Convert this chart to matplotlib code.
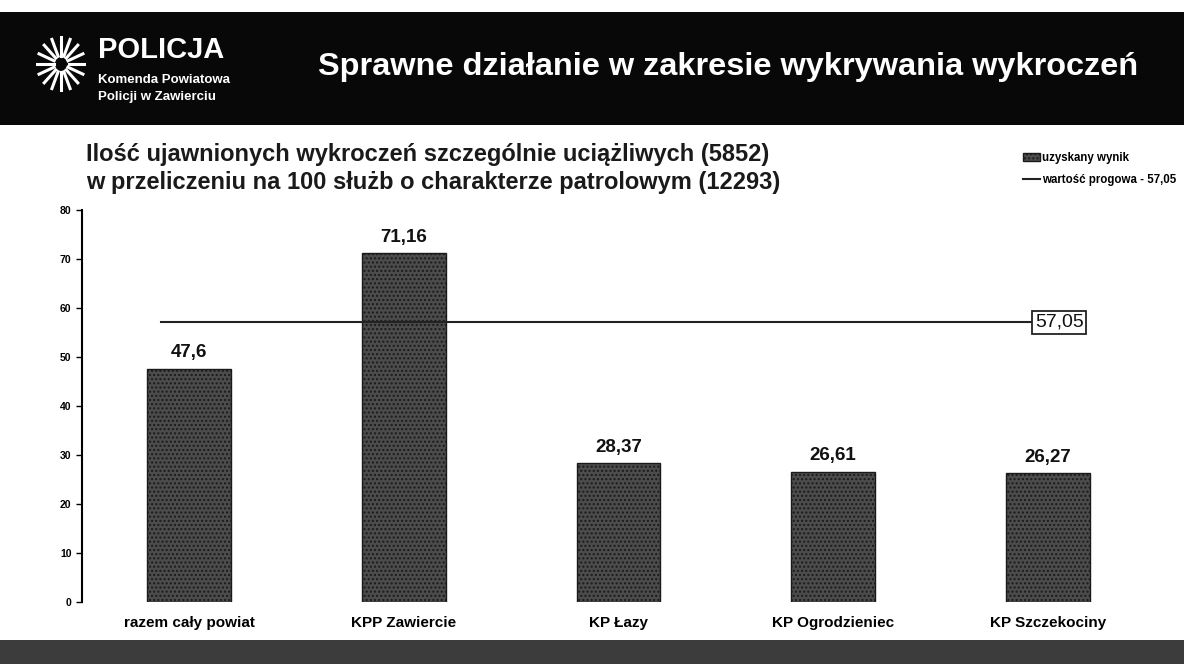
import numpy as np
import matplotlib.pyplot as plt
from matplotlib.patches import Rectangle

categories = ['razem cały powiat', 'KPP Zawiercie', 'KP Łazy', 'KP Ogrodzieniec', 'KP Szczekociny']
values = [47.6, 71.16, 28.37, 26.61, 26.27]
value_labels = ['47,6', '71,16', '28,37', '26,61', '26,27']
threshold = 57.05
threshold_label = '57,05'

plt.rcParams['font.family'] = ['Liberation Sans', 'DejaVu Sans']

fig = plt.figure(figsize=(11.84, 6.64), dpi=100)
fig.patch.set_facecolor('white')

# header band and footer band
fig.patches.append(Rectangle((0, 1 - 125 / 664), 1, 113 / 664, transform=fig.transFigure,
                             facecolor='#080808', edgecolor='none', zorder=-5))
fig.patches.append(Rectangle((0, 0), 1, 24 / 664, transform=fig.transFigure,
                             facecolor='#3c3c3c', edgecolor='none', zorder=-5))

# simple emblem
em = fig.add_axes([36 / 1184, 1 - 92 / 664, 50 / 1184, 56 / 664])
em.set_xlim(-1, 1)
em.set_ylim(-1, 1)
em.axis('off')
for ang in np.arange(0, 360, 22.5):
    a = np.deg2rad(ang)
    em.plot([0.3 * np.cos(a), 0.95 * np.cos(a)], [0.3 * np.sin(a), 0.95 * np.sin(a)],
            color='white', lw=2.2)

fig.text(98 / 1184, 1 - 50 / 664, 'POLICJA', color='white', fontsize=21, fontweight='bold',
         va='center', ha='left')
fig.text(98 / 1184, 1 - 80 / 664, 'Komenda Powiatowa', color='white', fontsize=9.5,
         fontweight='bold', va='center', ha='left')
fig.text(98 / 1184, 1 - 97 / 664, 'Policji w Zawierciu', color='white', fontsize=9.5,
         fontweight='bold', va='center', ha='left')
fig.text(318 / 1184, 1 - 67 / 664, 'Sprawne działanie w zakresie wykrywania wykroczeń',
         color='white', fontsize=23.4, fontweight='bold', va='center', ha='left')

fig.text(86 / 1184, 1 - 155 / 664, 'Ilość ujawnionych wykroczeń szczególnie uciążliwych (5852)',
         color='#1a1a1a', fontsize=17, fontweight='bold', va='center', ha='left')
fig.text(86 / 1184, 1 - 183 / 664, 'w przeliczeniu na 100 służb o charakterze patrolowym (12293)',
         color='#1a1a1a', fontsize=17, fontweight='bold', va='center', ha='left')

ax = fig.add_axes([82 / 1184, 62 / 664, 1073 / 1184, 392 / 664])
x = np.arange(len(categories))
bars = ax.bar(x, values, width=0.39, color='#4c4c4c', edgecolor='#1a1a1a', linewidth=1,
              hatch='....', label='uzyskany wynik', zorder=2)

for xi, v, lab in zip(x, values, value_labels):
    ax.text(xi, v + 1.5, lab, ha='center', va='bottom', fontsize=13.5, fontweight='bold',
            color='#111111')

line, = ax.plot([-0.13, 3.93], [threshold, threshold], color='#222222', lw=1.5,
                label='wartość progowa - 57,05', zorder=3)
ax.text(3.94, threshold, threshold_label, ha='left', va='center', fontsize=14,
        color='#111111', bbox=dict(boxstyle='square,pad=0.15', facecolor='white',
                                   edgecolor='#222222', linewidth=1.3))

ax.set_xlim(-0.5, len(categories) - 0.5)
ax.set_ylim(0, 80)
ax.set_yticks(np.arange(0, 81, 10))
ax.tick_params(axis='y', labelsize=7.5, length=4, width=1, direction='out')
for t in ax.get_yticklabels():
    t.set_fontweight('bold')
ax.set_xticks(x)
ax.set_xticklabels(categories, fontsize=11, fontweight='bold')
ax.tick_params(axis='x', length=0, pad=10)
ax.spines['top'].set_visible(False)
ax.spines['right'].set_visible(False)
ax.spines['bottom'].set_visible(False)
ax.spines['left'].set_linewidth(1.5)

fig.legend(handles=[bars, line], loc='upper left', bbox_to_anchor=(1017 / 1184, 1 - 146 / 664),
           frameon=False, prop={'size': 8.3, 'weight': 'bold'},
           handlelength=1.5, handletextpad=0.2, labelspacing=0.9, borderpad=0)

fig.savefig('out.png', dpi=100)
